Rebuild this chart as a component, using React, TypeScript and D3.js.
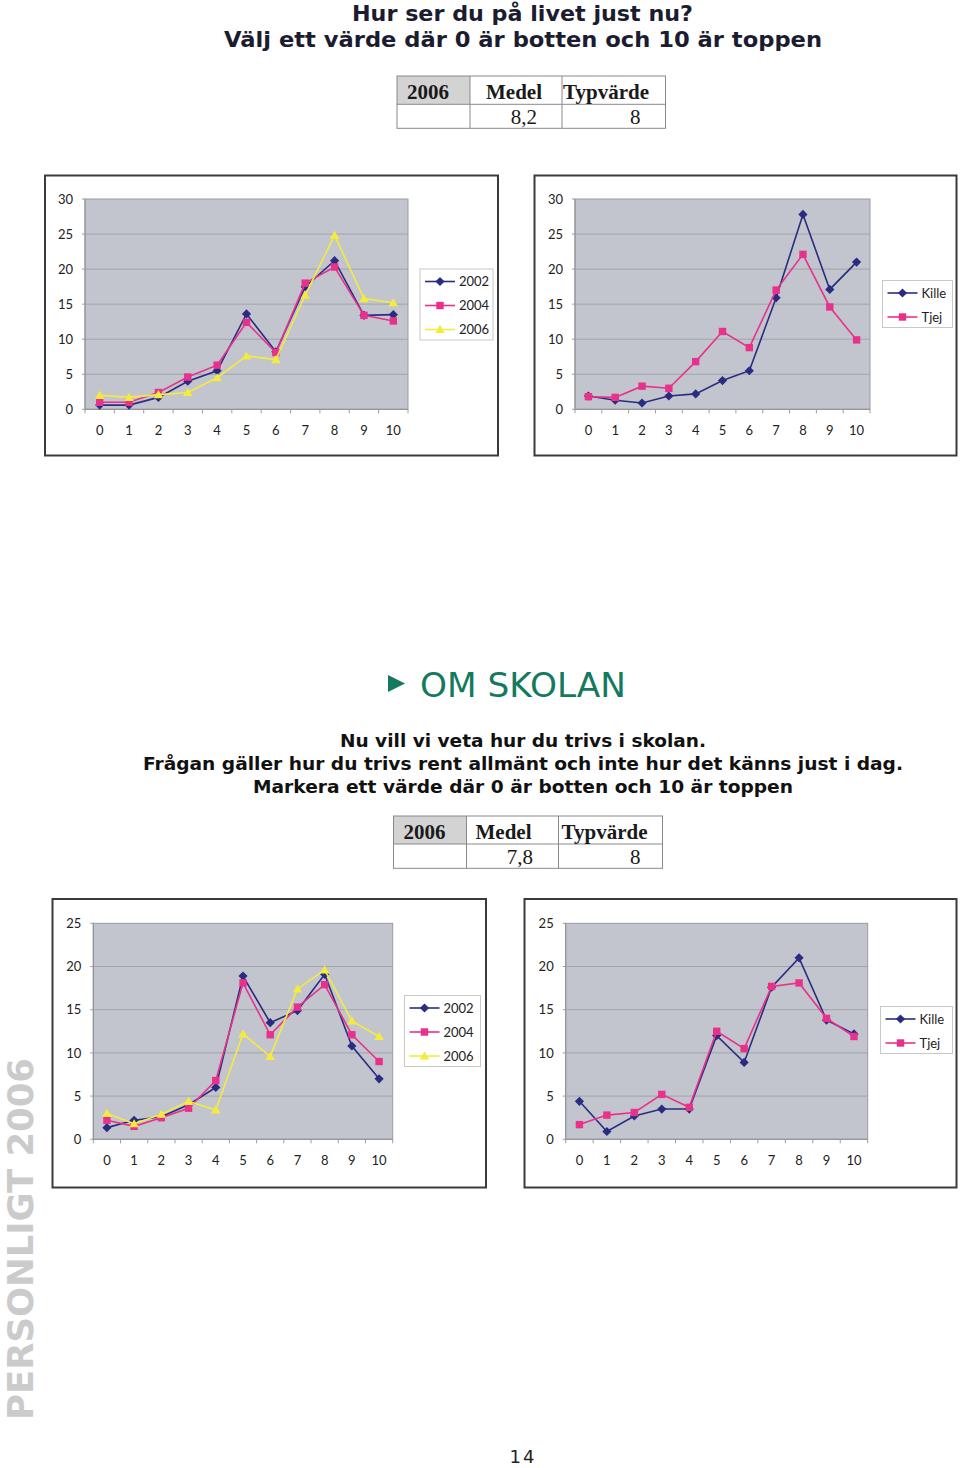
import React from 'react';
import * as d3 from 'd3';

const categories = ['0', '1', '2', '3', '4', '5', '6', '7', '8', '9', '10'];
const yTicksTop = [0, 5, 10, 15, 20, 25, 30];
const yTicksBottom = [0, 5, 10, 15, 20, 25];

// "Hur ser du på livet just nu?"
const life2002 = [0.6, 0.6, 1.7, 4.0, 5.5, 13.6, 8.2, 17.5, 21.2, 13.4, 13.5];
const life2004 = [1.0, 1.0, 2.4, 4.6, 6.3, 12.4, 8.1, 18.0, 20.3, 13.4, 12.6];
const life2006 = [2.0, 1.7, 2.1, 2.4, 4.5, 7.6, 7.1, 16.3, 24.8, 15.8, 15.2];
const lifeKille = [1.9, 1.3, 0.9, 1.9, 2.2, 4.1, 5.5, 15.9, 27.8, 17.1, 21.0];
const lifeTjej = [1.8, 1.7, 3.3, 3.0, 6.8, 11.1, 8.8, 17.0, 22.1, 14.6, 9.9];

// "Om skolan"
const school2002 = [1.35, 2.2, 2.6, 4.0, 6.0, 18.9, 13.5, 14.9, 19.1, 10.8, 7.0];
const school2004 = [2.2, 1.5, 2.5, 3.6, 6.8, 18.1, 12.1, 15.3, 17.9, 12.1, 9.0];
const school2006 = [3.0, 1.8, 2.9, 4.4, 3.4, 12.2, 9.6, 17.4, 19.6, 13.7, 11.9];
const schoolKille = [4.4, 0.9, 2.7, 3.5, 3.5, 12.0, 8.9, 17.6, 21.0, 13.8, 12.2];
const schoolTjej = [1.7, 2.8, 3.1, 5.2, 3.7, 12.5, 10.5, 17.7, 18.1, 14.0, 11.9];

const tableHeaders = ['2006', 'Medel', 'Typvärde'];
const lifeStats = ['8,2', '8'];
const schoolStats = ['7,8', '8'];

const NAVY = '#2a2c82';
const PINK = '#e8318b';
const YELLOW = '#f3ec3e';
const CHART_FONT = 'Lato, "DejaVu Sans", sans-serif';
const HEAD_FONT = '"DejaVu Sans", Verdana, sans-serif';
const SERIF = '"Liberation Serif", "Times New Roman", serif';

type Marker = 'diamond' | 'square' | 'triangle';
type Series = { name: string; values: number[]; color: string; marker: Marker };

function markerPath(m: Marker): string {
  if (m === 'diamond') return 'M0,-4.6L4.6,0L0,4.6L-4.6,0Z';
  if (m === 'square') return 'M-3.7,-3.7H3.7V3.7H-3.7Z';
  return 'M0,-4.6L4.8,3.6L-4.8,3.6Z';
}

type Rect = { x0: number; y0: number; x1: number; y1: number };

function Chart(props: {
  frame: Rect;
  plot: Rect;
  yMax: number;
  yTicks: number[];
  series: Series[];
  legend: { x: number; y: number; w: number };
}) {
  const { frame, plot, yMax, yTicks, series, legend } = props;
  const x = d3.scaleBand<string>().domain(categories).range([plot.x0, plot.x1]);
  const y = d3.scaleLinear().domain([0, yMax]).range([plot.y1, plot.y0]);
  const cx = (i: number) => (x(categories[i]) as number) + x.bandwidth() / 2;
  const line = d3
    .line<number>()
    .x((_, i) => cx(i))
    .y((d) => y(d));
  const bounds = categories.map((c) => x(c) as number).concat([plot.x1]);
  const rowH = 24;
  const legH = series.length * rowH - 1;
  return (
    <g>
      <rect
        x={frame.x0}
        y={frame.y0}
        width={frame.x1 - frame.x0}
        height={frame.y1 - frame.y0}
        fill="#fff"
        stroke="#3a3a3a"
        strokeWidth={2}
      />
      <rect
        x={plot.x0}
        y={plot.y0}
        width={plot.x1 - plot.x0}
        height={plot.y1 - plot.y0}
        fill="#c2c5cd"
        stroke="#9a9ca2"
        strokeWidth={1}
      />
      {yTicks
        .filter((t) => t > 0 && t < yMax)
        .map((t) => (
          <line key={t} x1={plot.x0} x2={plot.x1} y1={y(t)} y2={y(t)} stroke="#a2a4aa" strokeWidth={1} />
        ))}
      <line x1={plot.x0} x2={plot.x1} y1={plot.y1} y2={plot.y1} stroke="#8e9096" strokeWidth={1} />
      <line x1={plot.x0} x2={plot.x0} y1={plot.y0} y2={plot.y1} stroke="#8e9096" strokeWidth={1} />
      {bounds.map((b, i) => (
        <line key={i} x1={b} x2={b} y1={plot.y1} y2={plot.y1 + 4} stroke="#9a9ca2" strokeWidth={1} />
      ))}
      {yTicks.map((t) => (
        <g key={t}>
          <line x1={plot.x0 - 3} x2={plot.x0} y1={y(t)} y2={y(t)} stroke="#9a9ca2" />
          <text
            x={plot.x0 - 12}
            y={y(t)}
            dy="0.36em"
            textAnchor="end"
            fontFamily={CHART_FONT}
            fontSize={13}
            fill="#222"
          >
            {t}
          </text>
        </g>
      ))}
      {categories.map((c, i) => (
        <text
          key={c}
          x={cx(i)}
          y={plot.y1 + 26}
          textAnchor="middle"
          fontFamily={CHART_FONT}
          fontSize={13}
          fill="#222"
        >
          {c}
        </text>
      ))}
      {series.map((s) => (
        <g key={s.name}>
          <path d={line(s.values) || ''} fill="none" stroke={s.color} strokeWidth={1.6} />
          {s.values.map((v, i) => (
            <path key={i} d={markerPath(s.marker)} transform={`translate(${cx(i)},${y(v)})`} fill={s.color} />
          ))}
        </g>
      ))}
      <rect x={legend.x} y={legend.y} width={legend.w} height={legH} fill="#fff" stroke="#c8c8c8" strokeWidth={1} />
      {series.map((s, i) => {
        const ly = legend.y + 12.5 + i * rowH;
        return (
          <g key={s.name}>
            <line x1={legend.x + 5} x2={legend.x + 35} y1={ly} y2={ly} stroke={s.color} strokeWidth={1.6} />
            <path d={markerPath(s.marker)} transform={`translate(${legend.x + 20},${ly})`} fill={s.color} />
            <text
              x={legend.x + 39}
              y={ly}
              dy="0.36em"
              fontFamily={CHART_FONT}
              fontSize={13}
              fill="#222"
            >
              {s.name}
            </text>
          </g>
        );
      })}
    </g>
  );
}

function StatsTable(props: {
  x0: number;
  x1: number;
  x2: number;
  x3: number;
  y0: number;
  y1: number;
  y2: number;
  yearX: number;
  medelX: number;
  typX: number;
  v1Right: number;
  v2Right: number;
  values: string[];
}) {
  const { x0, x1, x2, x3, y0, y1, y2, yearX, medelX, typX, v1Right, v2Right, values } = props;
  const b1 = y1 - 5;
  const b2 = y2 - 4;
  return (
    <g>
      <rect x={x0} y={y0} width={x1 - x0} height={y1 - y0} fill="#d3d3d3" />
      <rect x={x0} y={y0} width={x3 - x0} height={y2 - y0} fill="none" stroke="#8a8a8a" strokeWidth={1} />
      <line x1={x0} x2={x3} y1={y1} y2={y1} stroke="#8a8a8a" />
      <line x1={x1} x2={x1} y1={y0} y2={y2} stroke="#8a8a8a" />
      <line x1={x2} x2={x2} y1={y0} y2={y2} stroke="#8a8a8a" />
      <text x={yearX} y={b1} textAnchor="middle" fontFamily={SERIF} fontWeight="bold" fontSize={21} fill="#1a1a1a">
        {tableHeaders[0]}
      </text>
      <text x={medelX} y={b1} textAnchor="middle" fontFamily={SERIF} fontWeight="bold" fontSize={21} fill="#1a1a1a">
        {tableHeaders[1]}
      </text>
      <text x={typX} y={b1} fontFamily={SERIF} fontWeight="bold" fontSize={21} fill="#1a1a1a">
        {tableHeaders[2]}
      </text>
      <text x={v1Right} y={b2} textAnchor="end" fontFamily={SERIF} fontSize={21} fill="#1a1a1a">
        {values[0]}
      </text>
      <text x={v2Right} y={b2} textAnchor="end" fontFamily={SERIF} fontSize={21} fill="#1a1a1a">
        {values[1]}
      </text>
    </g>
  );
}

export default function App() {
  return (
    <svg
      width={960}
      height={1468}
      viewBox="0 0 960 1468"
      style={{ position: 'absolute', left: 0, top: 0, background: '#fff' }}
    >
      <rect x={0} y={0} width={960} height={1468} fill="#fff" />
      <text x={522.5} y={21} textAnchor="middle" fontFamily={HEAD_FONT} fontWeight="bold" fontSize={22} fill="#1c1c30" textLength={341} lengthAdjust="spacingAndGlyphs">
        Hur ser du på livet just nu?
      </text>
      <text x={523} y={47} textAnchor="middle" fontFamily={HEAD_FONT} fontWeight="bold" fontSize={22} fill="#1c1c30" textLength={598} lengthAdjust="spacingAndGlyphs">
        Välj ett värde där 0 är botten och 10 är toppen
      </text>

      <StatsTable
        x0={397} x1={470} x2={562} x3={665.5} y0={76} y1={104.3} y2={128.3}
        yearX={428} medelX={514} typX={563} v1Right={537} v2Right={640.5}
        values={lifeStats}
      />

      <Chart
        frame={{ x0: 45, y0: 175.5, x1: 498, y1: 455.5 }}
        plot={{ x0: 85, y0: 199, x1: 408, y1: 409.3 }}
        yMax={30}
        yTicks={yTicksTop}
        series={[
          { name: '2002', values: life2002, color: NAVY, marker: 'diamond' },
          { name: '2004', values: life2004, color: PINK, marker: 'square' },
          { name: '2006', values: life2006, color: YELLOW, marker: 'triangle' },
        ]}
        legend={{ x: 420, y: 269, w: 73 }}
      />
      <Chart
        frame={{ x0: 534.5, y0: 175.5, x1: 956.5, y1: 455.5 }}
        plot={{ x0: 575, y0: 199, x1: 870, y1: 409.3 }}
        yMax={30}
        yTicks={yTicksTop}
        series={[
          { name: 'Kille', values: lifeKille, color: NAVY, marker: 'diamond' },
          { name: 'Tjej', values: lifeTjej, color: PINK, marker: 'square' },
        ]}
        legend={{ x: 882.5, y: 280.5, w: 70 }}
      />

      <path d="M388,675L405,683.5L388,692Z" fill="#14795f" />
      <text x={420} y={697} fontFamily={HEAD_FONT} fontSize={33.5} fill="#14795f" textLength={206} lengthAdjust="spacingAndGlyphs">
        OM SKOLAN
      </text>

      <text x={523} y={747} textAnchor="middle" fontFamily={HEAD_FONT} fontWeight="bold" fontSize={18.5} fill="#111" textLength={366} lengthAdjust="spacingAndGlyphs">
        Nu vill vi veta hur du trivs i skolan.
      </text>
      <text x={523} y={770} textAnchor="middle" fontFamily={HEAD_FONT} fontWeight="bold" fontSize={18.5} fill="#111" textLength={760} lengthAdjust="spacingAndGlyphs">
        Frågan gäller hur du trivs rent allmänt och inte hur det känns just i dag.
      </text>
      <text x={523} y={793} textAnchor="middle" fontFamily={HEAD_FONT} fontWeight="bold" fontSize={18.5} fill="#111" textLength={540} lengthAdjust="spacingAndGlyphs">
        Markera ett värde där 0 är botten och 10 är toppen
      </text>

      <StatsTable
        x0={393.5} x1={466.5} x2={558.5} x3={662.5} y0={816} y1={844} y2={868.3}
        yearX={424.5} medelX={503.5} typX={561.5} v1Right={533} v2Right={640.5}
        values={schoolStats}
      />

      <Chart
        frame={{ x0: 52.5, y0: 899, x1: 486, y1: 1187.5 }}
        plot={{ x0: 93.3, y0: 923.3, x1: 392.7, y1: 1139.3 }}
        yMax={25}
        yTicks={yTicksBottom}
        series={[
          { name: '2002', values: school2002, color: NAVY, marker: 'diamond' },
          { name: '2004', values: school2004, color: PINK, marker: 'square' },
          { name: '2006', values: school2006, color: YELLOW, marker: 'triangle' },
        ]}
        legend={{ x: 404.5, y: 995.5, w: 76 }}
      />
      <Chart
        frame={{ x0: 524.5, y0: 899, x1: 956.5, y1: 1187.5 }}
        plot={{ x0: 565.7, y0: 923.3, x1: 867.7, y1: 1139.3 }}
        yMax={25}
        yTicks={yTicksBottom}
        series={[
          { name: 'Kille', values: schoolKille, color: NAVY, marker: 'diamond' },
          { name: 'Tjej', values: schoolTjej, color: PINK, marker: 'square' },
        ]}
        legend={{ x: 880.5, y: 1006.5, w: 72 }}
      />

      <text
        transform="translate(33,1420) rotate(-90)"
        x={0}
        y={0}
        fontFamily={HEAD_FONT}
        fontWeight="bold"
        fontSize={36}
        fill="#cbcbcb"
        textLength={362}
        lengthAdjust="spacingAndGlyphs"
      >
        PERSONLIGT 2006
      </text>

      <text x={523} y={1463} textAnchor="middle" fontFamily={HEAD_FONT} fontSize={18} letterSpacing={2} fill="#222">
        14
      </text>
    </svg>
  );
}
